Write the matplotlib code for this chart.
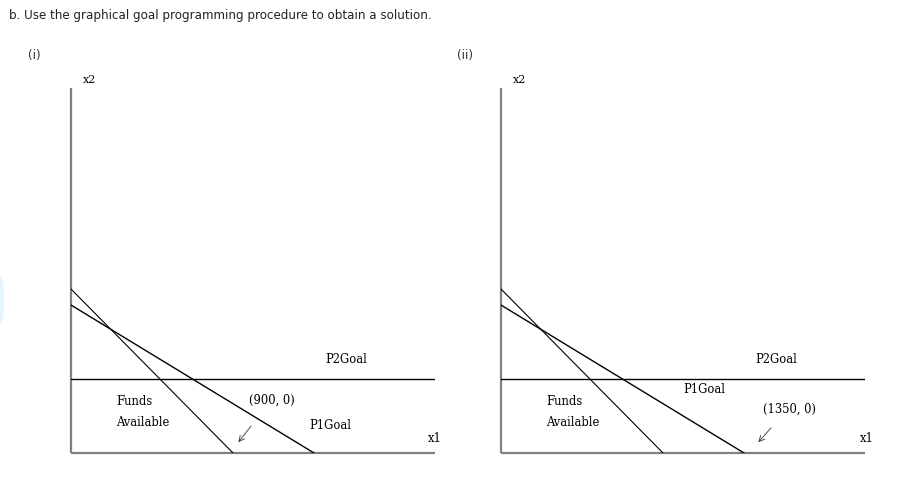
import matplotlib
matplotlib.use("Agg")
import matplotlib.pyplot as plt
from matplotlib.patches import Ellipse

W, H = 915, 482
fig = plt.figure(figsize=(W / 100, H / 100), dpi=100)

# data (units along axes)
x_max = 2022
y_max = 2028
lineA = ([0, 900], [911, 0])      # steeper line
lineB = ([0, 1350], [822, 0])     # funds / P1 line
h_goal = 411                      # P2 goal horizontal line

panels = [
    dict(left=71, tag="(i)", tagx=34,
         labels=[("P2Goal", 1530, 520), ("Funds", 350, 285), ("Available", 400, 170),
                 ("(900, 0)", 1115, 295), ("P1Goal", 1440, 155), ("x1", 2022, 80)],
         arrow=((1000, 150), (930, 60))),
    dict(left=501, tag="(ii)", tagx=465,
         labels=[("P2Goal", 1530, 520), ("P1Goal", 1130, 355), ("Funds", 350, 285),
                 ("Available", 400, 170), ("(1350, 0)", 1600, 245), ("x1", 2030, 80)],
         arrow=((1500, 140), (1430, 60))),
]

fig.text(9 / W, 1 - 15 / H, "b. Use the graphical goal programming procedure to obtain a solution.",
         fontsize=8.6, family="DejaVu Sans", va="center", ha="left", color="#222222")

for p in panels:
    L = p["left"]
    ax = fig.add_axes([L / W, (H - 453) / H, 364 / W, 365 / H])
    ax.set_xlim(0, x_max)
    ax.set_ylim(0, y_max)
    ax.axis("off")
    ax.plot([0, 0], [0, y_max], color="#808080", lw=1.6, solid_capstyle="butt", clip_on=False)
    ax.plot([0, x_max], [0, 0], color="#808080", lw=1.6, solid_capstyle="butt", clip_on=False)
    ax.plot(lineA[0], lineA[1], color="black", lw=0.8)
    ax.plot(lineB[0], lineB[1], color="black", lw=1.0)
    ax.plot([0, x_max], [h_goal, h_goal], color="black", lw=1.0)
    for txt, x, y in p["labels"]:
        ax.text(x, y, txt, family="DejaVu Serif", fontsize=8.3, ha="center", va="center",
                clip_on=False)
    (x0, y0), (x1, y1) = p["arrow"]
    ax.annotate("", xy=(x1, y1), xytext=(x0, y0),
                arrowprops=dict(arrowstyle="->", color="#333333", lw=0.6, shrinkA=0, shrinkB=0))
    fig.text((L + 19) / W, 1 - 80 / H, "x2", family="DejaVu Serif", fontsize=8,
             ha="center", va="center")
    fig.text(p["tagx"] / W, 1 - 55 / H, p["tag"], family="DejaVu Sans", fontsize=8.6,
             ha="center", va="center", color="#333333")

# faint blue glow at left edge
fig.patches.append(Ellipse((0, 1 - 300 / H), 8 / W, 50 / H, transform=fig.transFigure,
                           color="#d6effc", alpha=0.6, lw=0))

fig.savefig("out.png", dpi=100)
